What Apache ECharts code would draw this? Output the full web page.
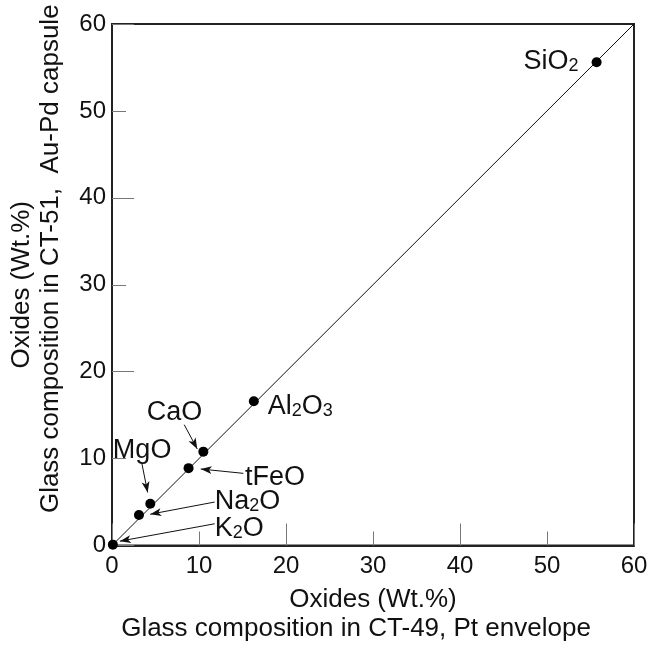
<!DOCTYPE html>
<html>
<head>
<meta charset="utf-8">
<script src="https://cdn.jsdelivr.net/npm/echarts@6/dist/echarts.min.js"></script>
<style>
html,body{margin:0;padding:0;background:#fff;}
#c{width:653px;height:647px;}
</style>
</head>
<body>
<div id="c"></div>
<script>
// ---- data ----
const oxides = ['SiO2', 'Al2O3', 'CaO', 'tFeO', 'MgO', 'Na2O', 'K2O'];
const ct49 = [55.7, 16.3, 10.5, 8.8, 4.4, 3.1, 0.1];   // x: CT-49, Pt envelope
const ct51 = [55.6, 16.6, 10.8, 8.9, 4.8, 3.5, 0.1];   // y: CT-51, Au-Pd capsule
const axisTicks = [0, 10, 20, 30, 40, 50, 60];
const oneToOne = [[0, 0], [60, 60]];
// label anchor points (data units) for each oxide name
const labelAt = [[47.3, 55.8], [17.9, 16.2], [4.0, 15.5], [15.3, 8.0], [0.1, 11.1], [11.8, 5.2], [11.8, 2.1]];
// leader arrows (data units), null = no arrow
const arrowFrom = [null, null, [8.3, 13.9], [15.1, 8.3], [3.4, 9.6], [11.8, 5.0], [11.8, 2.5]];
const arrowTo   = [null, null, [9.8, 11.1], [10.2, 8.8], [4.1, 6.1], [4.4, 3.6], [0.9, 0.5]];

// ---- chart ----
const FONT = 'Liberation Sans';
const TXT = '#111';
function sub(name) {
  return name.split(/(\d)/).filter(Boolean)
    .map(p => /\d/.test(p) ? '{s|' + p + '}' : '{n|' + p + '}').join('');
}
const points = ct49.map((x, i) => [x, ct51[i]]);
const labelData = labelAt.map((p, i) => ({ value: [p[0], p[1]], name: oxides[i] }));
const arrows = [];
arrowFrom.forEach((f, i) => { if (f) arrows.push([{ coord: f }, { coord: arrowTo[i] }]); });

const minAxis = (pos) => ({
  type: 'value', min: axisTicks[0], max: axisTicks[axisTicks.length - 1], interval: 20,
  position: pos, axisLine: { show: false }, splitLine: { show: false },
  axisLabel: { show: false },
  axisTick: { show: true, inside: true, length: 22, lineStyle: { color: '#777', width: 1 } }
});

const chart = echarts.init(document.getElementById('c'), null, { renderer: 'canvas' });
chart.setOption({
  animation: false,
  backgroundColor: '#fff',
  textStyle: { fontFamily: FONT },
  grid: { left: 112, top: 24, right: 19, bottom: 98, show: true, borderColor: '#222', borderWidth: 2 },
  xAxis: [{
    type: 'value', min: axisTicks[0], max: axisTicks[axisTicks.length - 1], interval: 10,
    axisLine: { show: true, lineStyle: { color: '#222', width: 2 } },
    splitLine: { show: false },
    axisTick: { show: true, inside: true, length: 14, lineStyle: { color: '#777', width: 1 } },
    axisLabel: { fontSize: 24, color: TXT, fontFamily: FONT, margin: 9,
      formatter: v => axisTicks.includes(v) ? String(v) : '' },
    name: '{a|Oxides (Wt.%)}\n{b|Glass composition in CT-49, Pt envelope}',
    nameLocation: 'middle', nameGap: 40,
    nameTextStyle: { fontFamily: FONT, color: TXT, rich: {
      a: { fontSize: 26, lineHeight: 29, fontFamily: FONT, color: TXT },
      b: { fontSize: 26, lineHeight: 29, fontFamily: FONT, color: TXT, padding: [0, 34, 0, 0] } } }
  }, minAxis('bottom')],
  yAxis: [{
    type: 'value', min: axisTicks[0], max: axisTicks[axisTicks.length - 1], interval: 10,
    axisLine: { show: true, lineStyle: { color: '#222', width: 2 } },
    splitLine: { show: false },
    axisTick: { show: true, inside: true, length: 14, lineStyle: { color: '#777', width: 1 } },
    axisLabel: { fontSize: 24, color: TXT, fontFamily: FONT, margin: 6,
      formatter: v => axisTicks.includes(v) ? String(v) : '' },
    name: '{a|Oxides (Wt.%)}\n{b|Glass composition in CT-51,  Au-Pd capsule}',
    nameLocation: 'middle', nameGap: 47,
    nameTextStyle: { fontFamily: FONT, color: TXT, rich: {
      a: { fontSize: 26, lineHeight: 29, fontFamily: FONT, color: TXT },
      b: { fontSize: 26, lineHeight: 29, fontFamily: FONT, color: TXT, padding: [0, 0, 0, 52] } } }
  }, minAxis('left')],
  series: [
    {
      type: 'line', data: oneToOne, symbol: 'none', silent: true,
      lineStyle: { color: '#111', width: 1 }, z: 2
    },
    {
      type: 'scatter', data: points, symbol: 'circle', symbolSize: 10,
      itemStyle: { color: '#000', opacity: 1 }, z: 5
    },
    {
      type: 'scatter', data: labelData, symbolSize: 0, silent: true, z: 6,
      itemStyle: { opacity: 1, color: '#000' },
      label: {
        show: true, position: 'right', distance: 0, color: TXT, opacity: 1,
        formatter: p => sub(p.name),
        rich: {
          n: { fontSize: 27, fontFamily: FONT, color: TXT, verticalAlign: 'bottom', lineHeight: 30 },
          s: { fontSize: 18, fontFamily: FONT, color: TXT, verticalAlign: 'bottom', lineHeight: 30 }
        }
      },
      markLine: {
        silent: true, symbol: ['none', 'arrow'], symbolSize: [6, 11],
        label: { show: false },
        lineStyle: { color: '#111', width: 1, type: 'solid', opacity: 1 },
        emphasis: { disabled: true },
        data: arrows
      }
    }
  ]
});
</script>
</body>
</html>
